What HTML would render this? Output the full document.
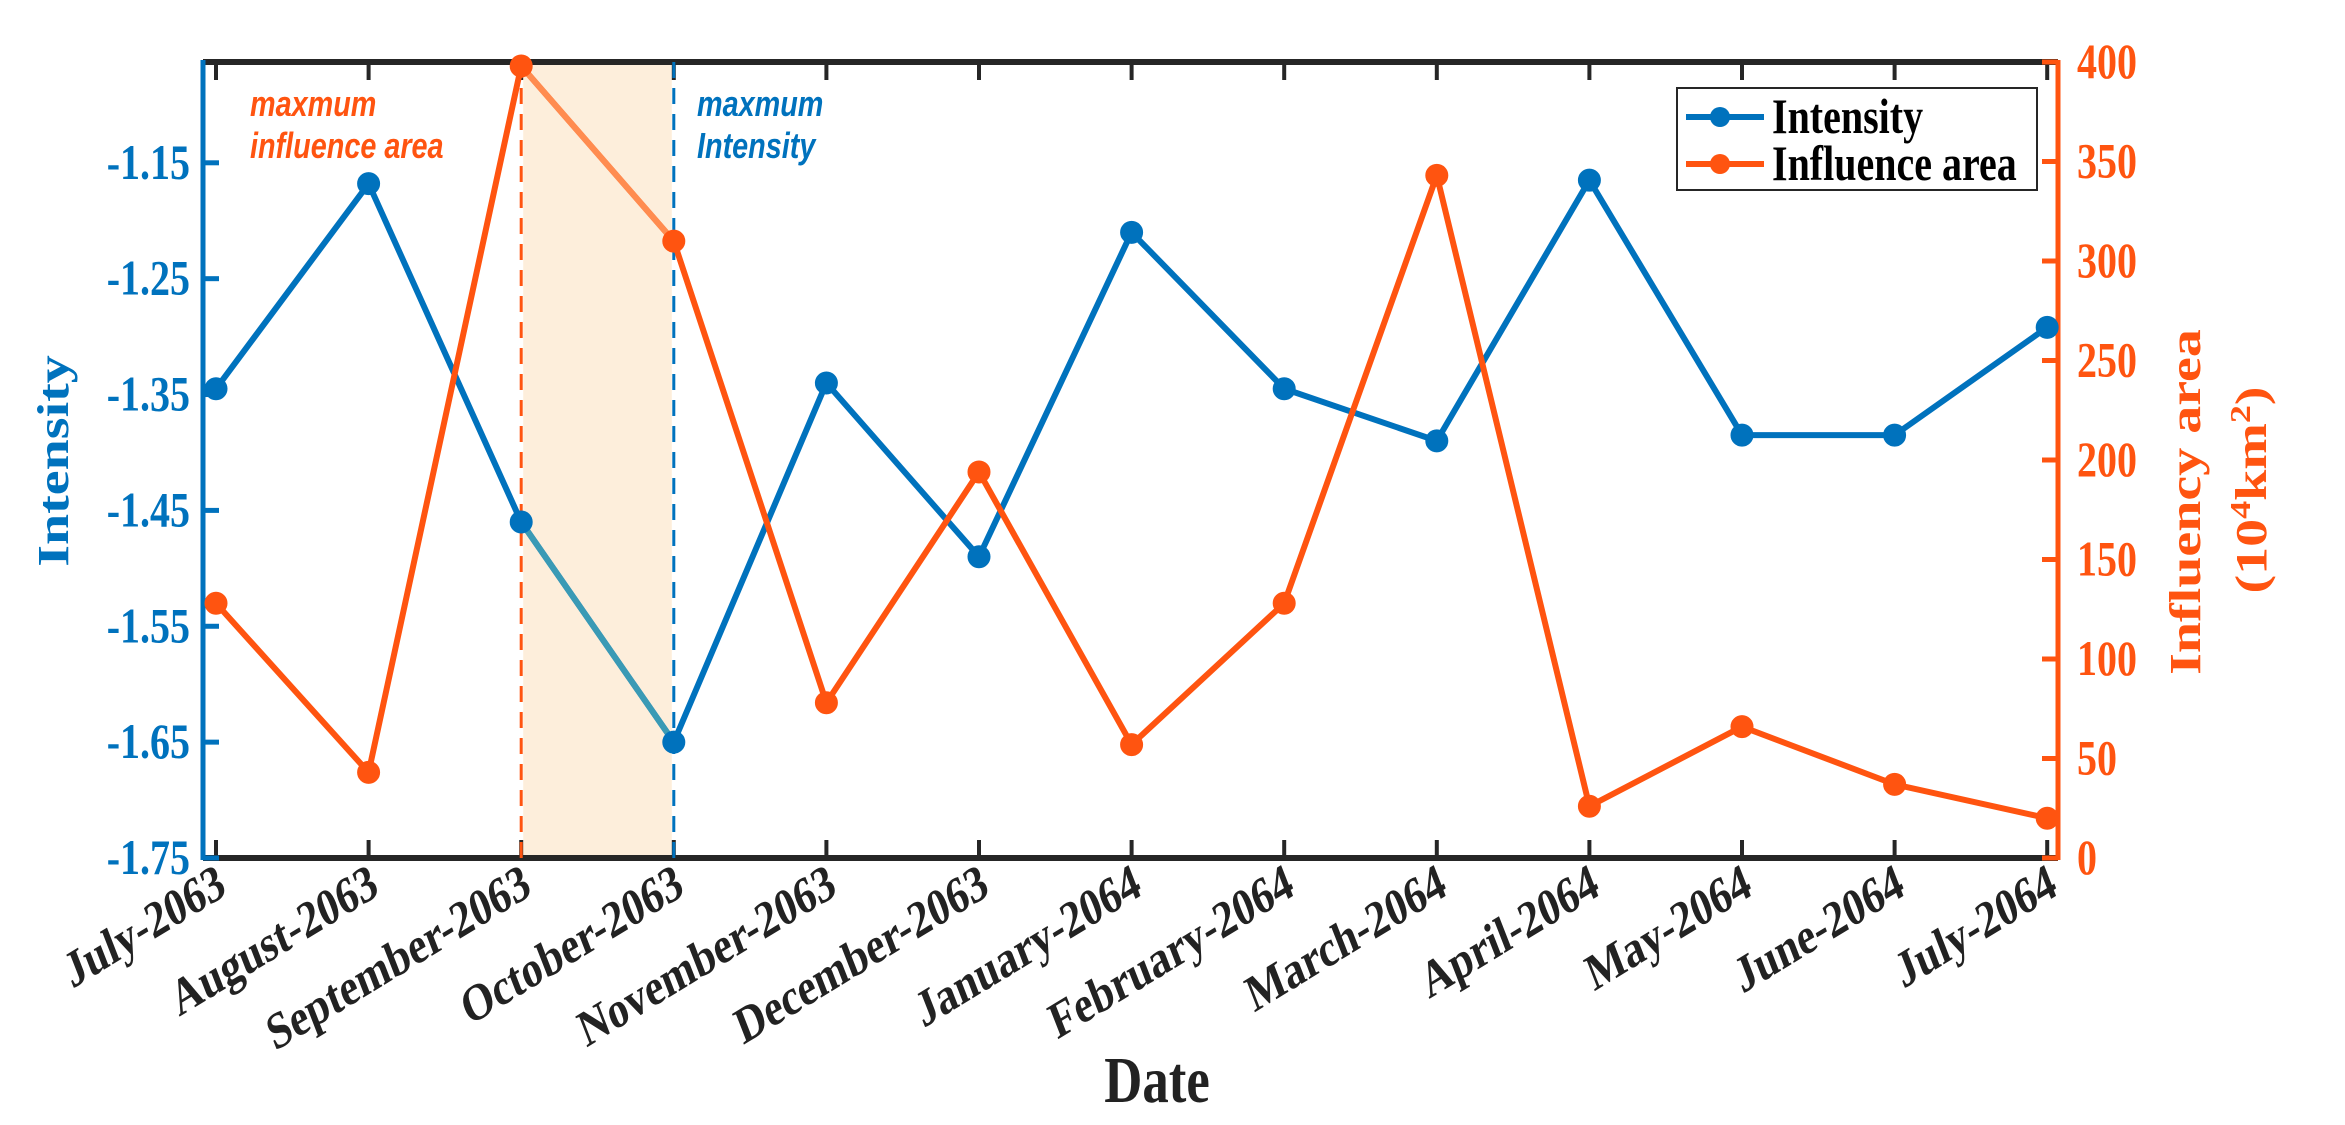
<!DOCTYPE html>
<html><head><meta charset="utf-8"><style>
html,body{margin:0;padding:0;background:#fff;}
svg{display:block;font-family:"Liberation Serif",serif;}
</style></head><body>
<svg id="chart" width="2345" height="1125" viewBox="0 0 2345 1125" xmlns="http://www.w3.org/2000/svg"></svg>
<script>
const categories = ["July-2063","August-2063","September-2063","October-2063","November-2063","December-2063","January-2064","February-2064","March-2064","April-2064","May-2064","June-2064","July-2064"];
const intensityValues = [-1.345,-1.168,-1.46,-1.65,-1.34,-1.49,-1.21,-1.345,-1.39,-1.165,-1.385,-1.385,-1.292];
const areaValues = [128,43,398,310,78,194,57,128,343,26,66,37,20];
const leftTicks = [-1.75,-1.65,-1.55,-1.45,-1.35,-1.25,-1.15];
const leftTickLabels = ["-1.75","-1.65","-1.55","-1.45","-1.35","-1.25","-1.15"];
const rightTicks = [0,50,100,150,200,250,300,350,400];
const highlightStart = 2, highlightEnd = 3;

const NS="http://www.w3.org/2000/svg";
const svg=document.getElementById('chart');
const BLUE="#0072BD", ORANGE="#FF5410";
const X0=216, XSTEP=152.6, TOP=62, BOT=858, AXL=203, AXR=2058, SQ=0.8;
const LMIN=-1.75, LMAX=-1.063, RMIN=0, RMAX=400;
function xs(i){return X0+i*XSTEP;}
function yl(v){return BOT-(v-LMIN)/(LMAX-LMIN)*(BOT-TOP);}
function yr(v){return BOT-(v-RMIN)/(RMAX-RMIN)*(BOT-TOP);}
function el(tag,attrs,parent){const e=document.createElementNS(NS,tag);for(const k in attrs)e.setAttribute(k,attrs[k]);(parent||svg).appendChild(e);return e;}
function stxt(x,y,rot,attrs,parent){
  const a=Object.assign({x:0,y:0,transform:`translate(${x} ${y}) scale(${SQ} 1)`+(rot?` rotate(${rot})`:'')},attrs);
  return el('text',a,parent);
}

let t;
t=el('rect',{x:xs(highlightStart)+2,y:TOP+3,width:xs(highlightEnd)-xs(highlightStart)-4,height:BOT-TOP-6,fill:'#fdeedb'});



t=el('line',{x1:AXL,y1:TOP,x2:AXR,y2:TOP,stroke:'#262626','stroke-width':6});


t=el('line',{x1:AXL,y1:BOT,x2:AXR,y2:BOT,stroke:'#262626','stroke-width':6});



categories.forEach((c,i)=>{
  const x=xs(i);
  let a=el('line',{x1:x,y1:BOT,x2:x,y2:BOT-18,stroke:'#262626','stroke-width':4});
  
  
  a=el('line',{x1:x,y1:TOP,x2:x,y2:TOP+18,stroke:'#262626','stroke-width':4});
  
  
  const tx=stxt(x+12,BOT+36,-26,{'text-anchor':'end','font-size':52,'font-weight':'bold',fill:'#222'});
  tx.textContent=c;
  
  
});

t=el('line',{x1:AXL,y1:TOP-2,x2:AXL,y2:BOT+2,stroke:BLUE,'stroke-width':5});


leftTicks.forEach((v,i)=>{
  const y=yl(v);
  let a=el('line',{x1:AXL,y1:y,x2:AXL+16,y2:y,stroke:BLUE,'stroke-width':5});
  
  
  const tx=stxt(190,y+16,0,{'text-anchor':'end','font-size':50,'font-weight':'bold',fill:BLUE});
  tx.textContent=leftTickLabels[i];
  
  
});
t=stxt(68,461,-90,{'text-anchor':'middle','font-size':56,'font-weight':'bold',fill:BLUE});
t.textContent='Intensity';



t=el('line',{x1:AXR,y1:TOP-2,x2:AXR,y2:BOT+2,stroke:ORANGE,'stroke-width':5});


rightTicks.forEach(v=>{
  const y=yr(v);
  let a=el('line',{x1:AXR-16,y1:y,x2:AXR,y2:y,stroke:ORANGE,'stroke-width':5});
  
  
  const tx=stxt(2077,y+16,0,{'text-anchor':'start','font-size':50,'font-weight':'bold',fill:ORANGE});
  tx.textContent=String(v);
  
  
});
t=stxt(2200,502,-90,{'text-anchor':'middle','font-size':56,'font-weight':'bold',fill:ORANGE});
t.textContent='Influency area';


t=stxt(2266,490,-90,{'text-anchor':'middle','font-size':56,'font-weight':'bold',fill:ORANGE});
t.innerHTML='(10<tspan baseline-shift="super" font-size="36">4</tspan>km<tspan baseline-shift="super" font-size="36">2</tspan>)';



t=stxt(1157,1102,0,{'text-anchor':'middle','font-size':66,'font-weight':'bold',fill:'#222'});
t.textContent='Date';



t=el('line',{x1:xs(highlightStart),y1:TOP,x2:xs(highlightStart),y2:BOT,stroke:ORANGE,'stroke-width':3,'stroke-dasharray':'16 10'});


t=el('line',{x1:xs(highlightEnd),y1:TOP,x2:xs(highlightEnd),y2:BOT,stroke:BLUE,'stroke-width':3,'stroke-dasharray':'16 10'});



function series(vals,yf,color,light,name){
  const pts=vals.map((v,i)=>xs(i)+','+yf(v)).join(' ');
  const p=el('polyline',{points:pts,fill:'none',stroke:color,'stroke-width':6,'stroke-linejoin':'round'});
  
  
  const dy=(yf(vals[highlightEnd])-yf(vals[highlightStart]))*3/XSTEP;
  const s=el('line',{x1:xs(highlightStart)+3,y1:yf(vals[highlightStart])+dy,x2:xs(highlightEnd)-3,y2:yf(vals[highlightEnd])-dy,stroke:light,'stroke-width':6});
  
  
  vals.forEach((v,i)=>{
    const c=el('circle',{cx:xs(i),cy:yf(v),r:10,fill:color,stroke:color,'stroke-width':3});
    
    
  });
}
series(intensityValues,yl,BLUE,'#3a9ab5','intensity');
series(areaValues,yr,ORANGE,'#ff8c50','influence-area');

const AF='Liberation Sans, sans-serif';
[['maxmum',250,116,ORANGE,'max-area-annotation-line1'],['influence area',250,158,ORANGE,'max-area-annotation-line2'],['maxmum',697,116,BLUE,'max-intensity-annotation-line1'],['Intensity',697,158,BLUE,'max-intensity-annotation-line2']].forEach(([s,x,y,c,n])=>{
  const tx=stxt(x,y,0,{'font-size':36,'font-style':'italic','font-weight':'bold','font-family':AF,fill:c});
  tx.textContent=s;
  
  
});

const lg=el('g',{});


el('rect',{x:1677,y:88,width:360,height:102,fill:'#fff',stroke:'#262626','stroke-width':2},lg);
[['Intensity',BLUE,133],['Influence area',ORANGE,180]].forEach(([lab,col,y])=>{
  const g=el('g',{},lg);
  
  
  el('line',{x1:1686,y1:y-16,x2:1764,y2:y-16,stroke:col,'stroke-width':6},g);
  el('circle',{cx:1720,cy:y-16,r:10,fill:col},g);
  const tx=stxt(1772,y,0,{'font-size':50,'font-weight':'bold',fill:'#000'},g);
  tx.textContent=lab;
});
</script>
</body></html>
